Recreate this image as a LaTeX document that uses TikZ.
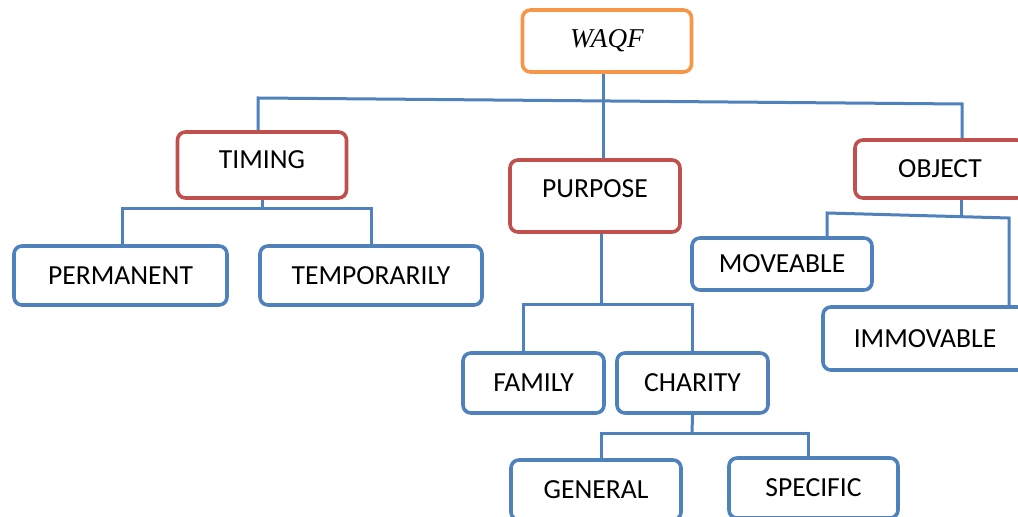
\documentclass[tikz,border=0pt]{standalone}
\usepackage{fontspec}
\setmainfont{Carlito}
\newfontfamily\waqffont{Liberation Serif}
\definecolor{boxorange}{HTML}{F79646}
\definecolor{boxred}{HTML}{C0504D}
\definecolor{boxblue}{HTML}{4F81BD}
\begin{document}
\begin{tikzpicture}[
	x=0.5pt, y=-0.5pt,
	every node/.style={font=\fontsize{13.8}{16}\selectfont, inner sep=0pt},
	orangenode/.style={shape=rectangle, rounded corners=4pt, draw=boxorange, line width=1.8pt},
	rednode/.style={shape=rectangle, rounded corners=4pt, draw=boxred, line width=1.8pt},
	bluenode/.style={shape=rectangle, rounded corners=4pt, draw=boxblue, line width=1.8pt},
	link/.style={draw=boxblue, line width=1.5pt},
]
\useasboundingbox (0,0) rectangle (1018,517);
\node[orangenode, minimum width=84.5pt, minimum height=31pt, font=\fontsize{13.6}{16}\waqffont\itshape] (waqf) at (607,41) {WAQF};
\node[rednode, minimum width=84.5pt, minimum height=33pt, text height=8.5pt, text depth=5pt] (timing) at (262,165) {TIMING};
\node[rednode, minimum width=85pt, minimum height=36pt, text height=8.5pt, text depth=7pt] (purpose) at (595,196) {PURPOSE};
\node[rednode, minimum width=85pt, minimum height=29pt] (object) at (940,169) {OBJECT};
\node[bluenode, minimum width=106.5pt, minimum height=29.5pt] (permanent) at (120.5,275.5) {PERMANENT};
\node[bluenode, minimum width=111pt, minimum height=29.5pt] (temporarily) at (371,275.5) {TEMPORARILY};
\node[bluenode, minimum width=70.5pt, minimum height=30pt] (family) at (533.5,383) {FAMILY};
\node[bluenode, minimum width=75.5pt, minimum height=30pt] (charity) at (692.5,383) {CHARITY};
\node[bluenode, minimum width=85pt, minimum height=30pt] (general) at (596,490) {GENERAL};
\node[bluenode, minimum width=84.5pt, minimum height=30pt] (specific) at (813.5,488) {SPECIFIC};
\node[bluenode, minimum width=90pt, minimum height=26pt] (moveable) at (782,264) {MOVEABLE};
\node[bluenode, minimum width=102pt, minimum height=31.5pt] (immovable) at (925,338.5) {IMMOVABLE};

\coordinate (barleft) at (258,98);
\coordinate (barright) at (962,104);
\draw[link] ([xshift=-2pt]waqf.south) -- ([xshift=-2pt]waqf.south |- purpose.north);
\draw[link] (timing.north -| barleft) -- (barleft) -- (barright) -- (object.north -| barright);

\coordinate (timingbar) at (262,209);
\draw[link] (timing.south) -- (timingbar);
\draw[link] ([xshift=1pt]permanent.north) |- (timingbar) -| (temporarily.north);

\coordinate (purposebar) at (601,305);
\coordinate (familyleg) at (523,305);
\draw[link] (purpose.south -| purposebar) -- (purposebar);
\draw[link] (family.north -| familyleg) -- (familyleg) -- (purposebar -| charity.north) -- (charity.north);

\coordinate (charitybar) at (692,434);
\draw[link] (charity.south) -- (charitybar);
\draw[link] ([xshift=2.5pt]general.north) |- (charitybar) -| ([xshift=-2.5pt]specific.north);

\coordinate (objectbar) at (961,215);
\coordinate (objectleft) at (827,213);
\coordinate (objectright) at (1009,218);
\draw[link] (object.south -| objectbar) -- (objectbar);
\draw[link] (moveable.north -| objectleft) -- (objectleft) -- (objectright) -- (immovable.north -| objectright);
\end{tikzpicture}
\end{document}
